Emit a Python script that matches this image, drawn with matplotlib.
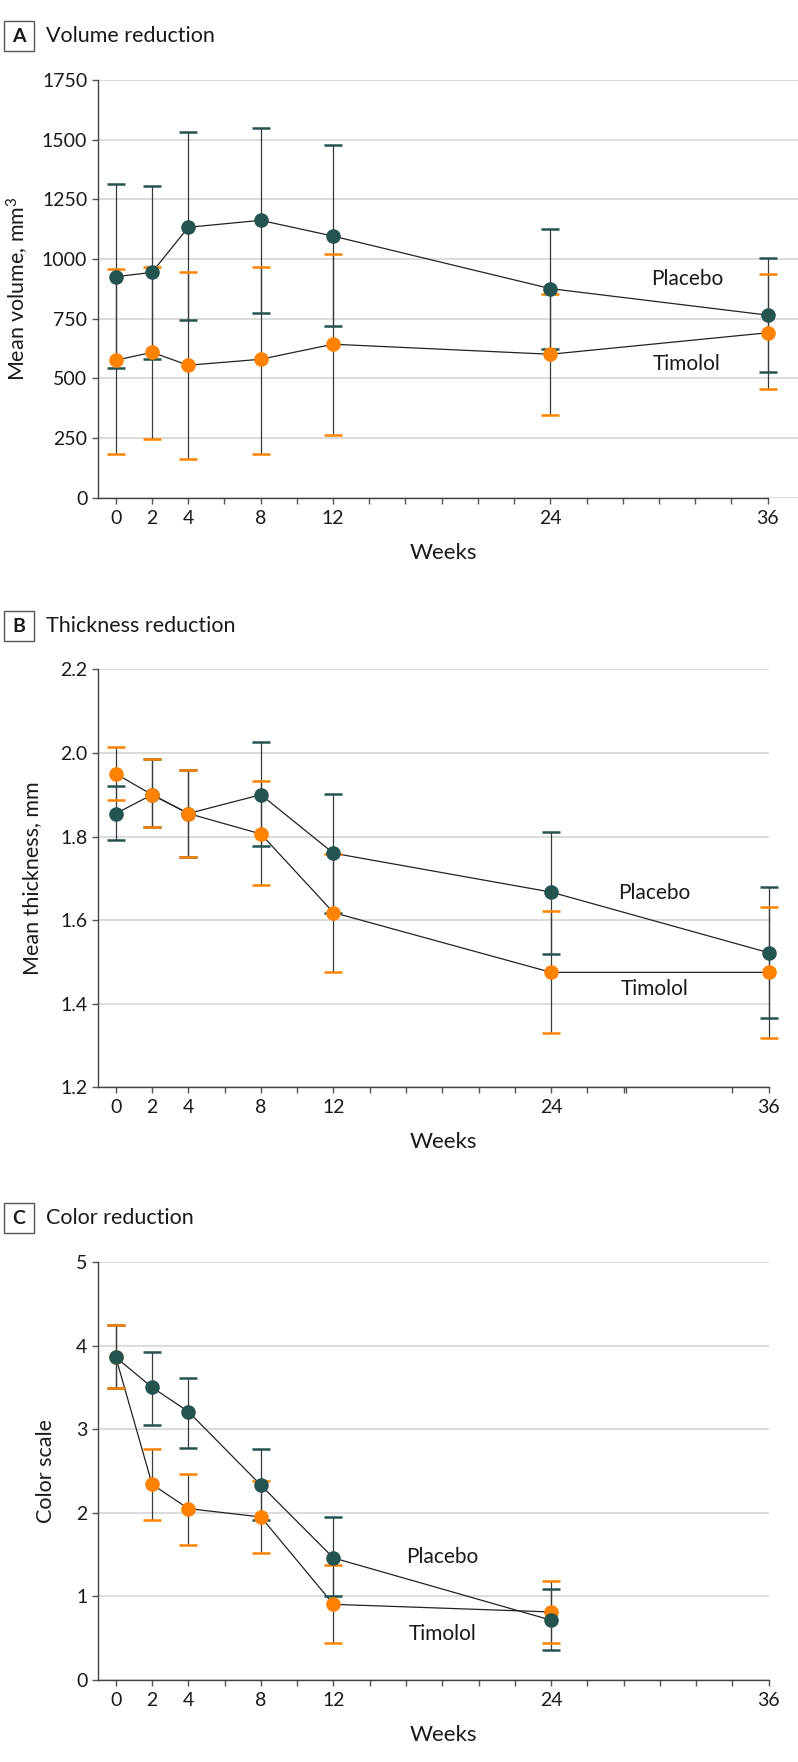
import matplotlib
matplotlib.use("Agg")
import matplotlib.pyplot as plt
from matplotlib.patches import Rectangle

plt.rcParams['font.family'] = ['Lato', 'DejaVu Sans']
plt.rcParams['mathtext.fontset'] = 'custom'
plt.rcParams['mathtext.rm'] = 'Lato'
plt.rcParams['mathtext.it'] = 'Lato'

# week axis
weeks_ab = [0, 2, 4, 8, 12, 24, 36]
weeks_c = [0, 2, 4, 8, 12, 24]
tick_labels = [0, 2, 4, 8, 12, 24, 36]

# A: volume, mm3
vol_placebo = [926, 944, 1133, 1162, 1096, 876, 765]
vol_placebo_lo = [542, 580, 744, 772, 720, 623, 527]
vol_placebo_hi = [1315, 1305, 1533, 1550, 1476, 1127, 1005]
vol_timolol = [576, 609, 555, 580, 643, 601, 691]
vol_timolol_lo = [184, 245, 162, 184, 263, 347, 457]
vol_timolol_hi = [958, 966, 947, 968, 1020, 852, 938]

# B: thickness, mm
thk_placebo = [1.855, 1.90, 1.855, 1.90, 1.76, 1.667, 1.522]
thk_placebo_lo = [1.792, 1.823, 1.752, 1.777, 1.618, 1.519, 1.365]
thk_placebo_hi = [1.921, 1.985, 1.959, 2.027, 1.902, 1.810, 1.678]
thk_timolol = [1.950, 1.90, 1.855, 1.806, 1.618, 1.475, 1.475]
thk_timolol_lo = [1.887, 1.823, 1.752, 1.684, 1.477, 1.329, 1.319]
thk_timolol_hi = [2.015, 1.985, 1.959, 1.933, 1.757, 1.621, 1.631]

# C: color scale
col_placebo = [3.86, 3.50, 3.21, 2.33, 1.46, 0.716]
col_placebo_lo = [3.49, 3.05, 2.78, 1.91, 1.01, 0.356]
col_placebo_hi = [4.25, 3.92, 3.61, 2.76, 1.95, 1.084]
col_timolol = [3.86, 2.34, 2.05, 1.95, 0.905, 0.814]
col_timolol_lo = [3.49, 1.91, 1.62, 1.52, 0.44, 0.437]
col_timolol_hi = [4.25, 2.76, 2.47, 2.38, 1.37, 1.18]

TEAL = '#245450'
ORANGE = '#ff8200'
TXT = '#1a1a1a'
W, H = 798, 1762

fig = plt.figure(figsize=(W / 100, H / 100), dpi=100)


def px_axes(left, top, right, bottom):
    return fig.add_axes([left / W, 1 - bottom / H, (right - left) / W, (bottom - top) / H])


def panel_title(letter, title, yc):
    fig.add_artist(Rectangle((3.5 / W, 1 - (yc + 15) / H), 30 / W, 30 / H,
                             transform=fig.transFigure, fill=False, ec='#555555', lw=1.0))
    fig.text(18.5 / W, 1 - yc / H, letter, ha='center', va='center', fontsize=14,
             fontweight='bold', color=TXT)
    fig.text(46 / W, 1 - yc / H, title, ha='left', va='center', fontsize=15.5, color=TXT)


def group(ax, x, mean, lo, hi, color, z, capz):
    yerr = [[m - l for m, l in zip(mean, lo)], [h - m for m, h in zip(mean, hi)]]
    ax.errorbar(x, mean, yerr=yerr, fmt='none', ecolor='#3a3a3a', elinewidth=0.9,
                capsize=0, zorder=z)
    ax.errorbar(x, mean, yerr=yerr, fmt='none', ecolor=color, elinewidth=0,
                capsize=6.5, capthick=1.8, zorder=capz)
    ax.plot(x, mean, color='#222222', lw=0.9, zorder=z + 0.2)
    ax.plot(x, mean, 'o', color=color, ms=10.5, mec='none', zorder=z + 5)


def style(ax, xmax, ylim, yticks, ylab, ylab_x, xticks, ylabfmt=None):
    ax.set_xlim(-1, xmax)
    ax.set_ylim(*ylim)
    for s in ['top', 'right']:
        ax.spines[s].set_visible(False)
    for s in ['left', 'bottom']:
        ax.spines[s].set_color('#444444')
        ax.spines[s].set_linewidth(1.0)
    ax.spines['bottom'].set_bounds(-1, 36)
    ax.set_yticks(yticks)
    if ylabfmt:
        ax.set_yticklabels([ylabfmt.format(v) for v in yticks])
    ax.set_xticks(xticks)
    ax.set_xticklabels([str(int(t)) if t in tick_labels else '' for t in xticks])
    ax.tick_params(axis='both', labelsize=14, colors=TXT, length=4.5, width=1.0)
    ax.tick_params(axis='x', color='#555555', pad=4)
    ax.tick_params(axis='y', color='#555555', pad=3)
    ax.yaxis.grid(True, color='#d9d9d9', lw=1.3)
    ax.set_axisbelow(True)
    ax.set_ylabel(ylab, fontsize=15.5, color=TXT)
    bb = ax.get_position()
    wpx = bb.width * W
    hpx = bb.height * H
    # ylab_x is the right edge of the rotated label, in figure pixels
    ax.yaxis.set_label_coords((ylab_x - 97.7) / wpx, 0.5)
    ax.set_xlabel('Weeks', fontsize=16, color=TXT)
    ax.xaxis.set_label_coords((443 - 97.7) / wpx, -45 / hpx)
    for art in list(ax.lines) + list(ax.collections):
        art.set_clip_on(False)


all_ticks = list(range(0, 37, 2))
b_ticks = list(range(0, 29, 2)) + [28.12, 34, 36]

# Panel A
panel_title('A', 'Volume reduction', 36)
axA = px_axes(97.7, 80, 798, 497.7)
group(axA, weeks_ab, vol_timolol, vol_timolol_lo, vol_timolol_hi, ORANGE, 2, 4.5)
group(axA, weeks_ab, vol_placebo, vol_placebo_lo, vol_placebo_hi, TEAL, 3, 4.4)
style(axA, 37.68, (0, 1750), list(range(0, 1751, 250)), 'Mean volume, mm$^3$', 31, all_ticks)
axA.text(31.55, 916, 'Placebo', ha='center', va='center', fontsize=15, color=TXT)
axA.text(31.55, 559, 'Timolol', ha='center', va='center', fontsize=15, color=TXT)

# Panel B
panel_title('B', 'Thickness reduction', 626)
axB = px_axes(97.7, 669.3, 768.7, 1087.3)
group(axB, weeks_ab, thk_placebo, thk_placebo_lo, thk_placebo_hi, TEAL, 2, 4.4)
group(axB, weeks_ab, thk_timolol, thk_timolol_lo, thk_timolol_hi, ORANGE, 3, 4.5)
style(axB, 36, (1.2, 2.2), [1.2, 1.4, 1.6, 1.8, 2.0, 2.2], 'Mean thickness, mm', 42,
      b_ticks, ylabfmt='{:.1f}')
axB.text(29.7, 1.666, 'Placebo', ha='center', va='center', fontsize=15, color=TXT)
axB.text(29.7, 1.435, 'Timolol', ha='center', va='center', fontsize=15, color=TXT)

# Panel C
panel_title('C', 'Color reduction', 1218)
axC = px_axes(97.7, 1262, 768.7, 1680)
group(axC, weeks_c, col_timolol, col_timolol_lo, col_timolol_hi, ORANGE, 2, 4.5)
group(axC, weeks_c, col_placebo, col_placebo_lo, col_placebo_hi, TEAL, 3, 4.4)
style(axC, 36, (0, 5), [0, 1, 2, 3, 4, 5], 'Color scale', 56, all_ticks)
axC.text(18.0, 1.47, 'Placebo', ha='center', va='center', fontsize=15, color=TXT)
axC.text(18.0, 0.55, 'Timolol', ha='center', va='center', fontsize=15, color=TXT)

fig.savefig('out.png', dpi=100)
